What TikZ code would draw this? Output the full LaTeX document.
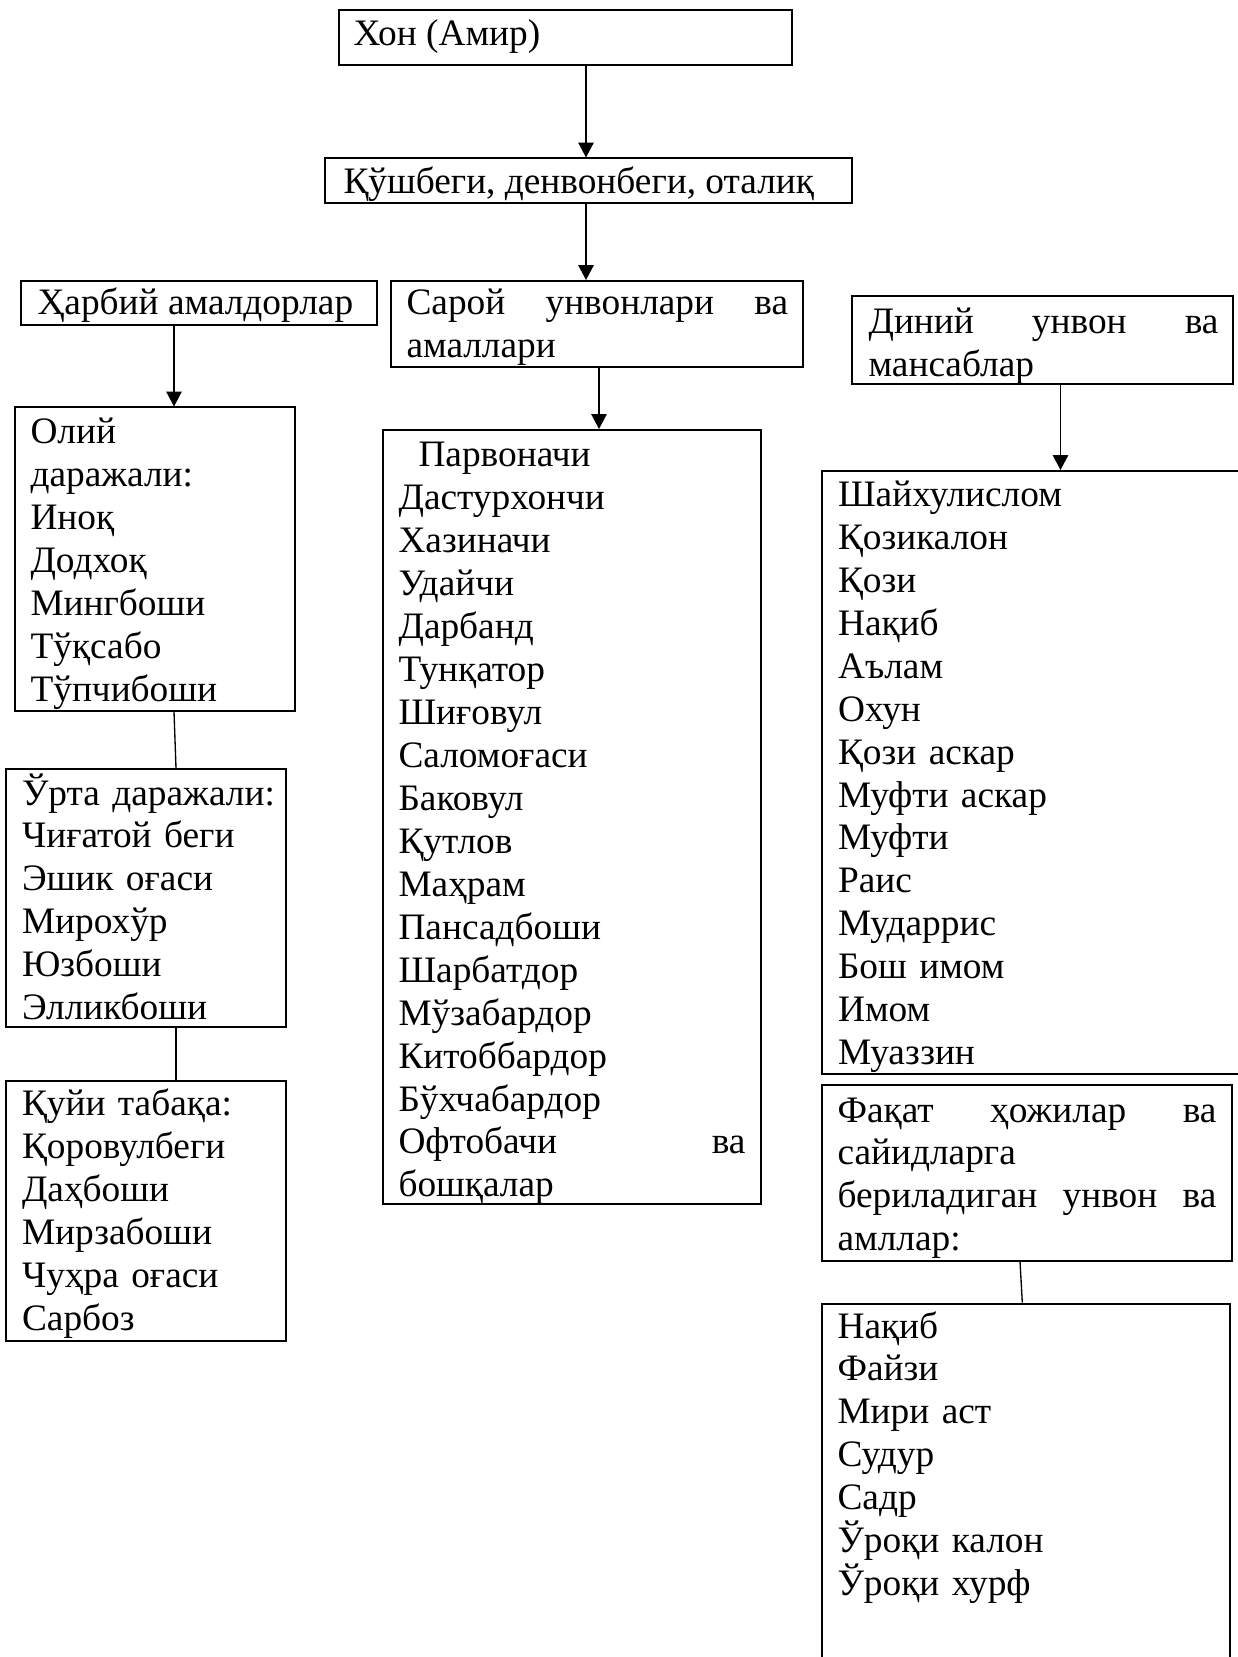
\documentclass[tikz,border=0pt]{standalone}
\usepackage{fontspec}
\setmainfont{Liberation Serif}
\usetikzlibrary{arrows.meta,fit}
\newcommand\jline[1]{\leavevmode\hbox to\linewidth{#1}}
\begin{document}
\begin{tikzpicture}[x=0.375pt,y=-0.375pt,
  box/.style={draw, line width=0.75pt, inner sep=0pt},
  txt/.style={inner sep=0pt, anchor=base west, align=left, font=\fontsize{14pt}{16.1pt}\selectfont},
  arr/.style={line width=0.5pt, -{Triangle[length=5.6pt,width=5.8pt]}},
  ln/.style={line width=0.5pt}]
\useasboundingbox (0,0) rectangle (1237,1657);
% boxes
\node[box, fit={(339,10) (792,65.5)}] (hon) {};
\node[box, fit={(325,158.5) (852,203.5)}] (kush) {};
\node[box, fit={(21,281) (377,325)}] (harb) {};
\node[box, fit={(391,281) (802.5,367.5)}] (saroy) {};
\node[box, fit={(852,296.5) (1232.5,384)}] (diniy) {};
\node[box, fit={(14.5,407.5) (295,710.5)}] (oliy) {};
\node[box, fit={(6,769) (286,1027)}] (urta) {};
\node[box, fit={(6,1081) (286,1340.5)}] (quyi) {};
\node[box, fit={(383,430) (761,1203.5)}] (parv) {};
\node[box, fit={(822,471) (1242,1073.5)}] (shayx) {};
\node[box, fit={(822,1084.5) (1231.5,1260.5)}] (faqat) {};
\node[box, fit={(822,1303.5) (1229.5,1700)}] (naqib) {};
% texts
\node[txt] (honT) at (353,45.5) {Хон (Амир)};
\node[txt] (kushT) at (343,194) {Қўшбеги, денвонбеги, оталиқ};
\node[txt] (harbT) at (37,315) {Ҳарбий амалдорлар};
\node[txt, text width=143.1pt] (saroyT) at (406,315) {\jline{Сарой\hfill унвонлари\hfill ва}\\амаллари};
\node[txt, text width=131.25pt] (diniyT) at (868,333.5) {\jline{Диний\hfill унвон\hfill ва}\\мансаблар};
\node[txt, text width=100pt] (oliyT) at (30,444) {Олий\\даражали:\\Иноқ\\Додхоқ\\Мингбоши\\Тўқсабо\\Тўпчибоши};
\node[txt, text width=100pt] (urtaT) at (21.5,805) {Ўрта даражали:\\Чиғатой беги\\Эшик оғаси\\Мирохўр\\Юзбоши\\Элликбоши};
\node[txt, text width=100pt] (quyiT) at (21.5,1115.5) {Қуйи табақа:\\Қоровулбеги\\Даҳбоши\\Мирзабоши\\Чуҳра оғаси\\Сарбоз};
\node[txt, text width=130.1pt] (parvT) at (398,467) {\hspace*{7.5pt}Парвоначи\\Дастурхончи\\Хазиначи\\Удайчи\\Дарбанд\\Тунқатор\\Шиғовул\\Саломоғаси\\Баковул\\Қутлов\\Маҳрам\\Пансадбоши\\Шарбатдор\\Мўзабардор\\Китоббардор\\Бўхчабардор\\\jline{Офтобачи\hfill ва}\\бошқалар};
\node[txt, text width=140pt] (shayxT) at (837.5,506.5) {Шайхулислом\\Қозикалон\\Қози\\Нақиб\\Аълам\\Охун\\Қози аскар\\Муфти аскар\\Муфти\\Раис\\Мударрис\\Бош имом\\Имом\\Муаззин};
\node[txt, text width=142.1pt] (faqatT) at (837,1122) {\jline{Фақат\hfill ҳожилар\hfill ва}\\сайидларга\\\jline{бериладиган\hfill унвон\hfill ва}\\амллар:};
\node[txt, text width=140pt] (naqibT) at (837,1338) {Нақиб\\Файзи\\Мири аст\\Судур\\Садр\\Ўроқи калон\\Ўроқи хурф};
% connector columns
\coordinate (c1) at (586,0);
\coordinate (c2) at (174,0);
\coordinate (c3) at (599,0);
\coordinate (c4) at (1060.5,0);
\coordinate (c5) at (176,0);
\coordinate (c6) at (1020,0);
\coordinate (c7) at (1022.3,0);
% connectors
\draw[arr] (hon.south -| c1) -- (kush.north -| c1);
\draw[arr] (kush.south -| c1) -- (saroy.north -| c1);
\draw[arr] (harb.south -| c2) -- (oliy.north -| c2);
\draw[arr] (saroy.south -| c3) -- (parv.north -| c3);
\draw[arr] (diniy.south -| c4) -- (shayx.north -| c4);
\draw[ln] (oliy.south -| c2) -- (urta.north -| c5);
\draw[ln] (urta.south -| c5) -- (quyi.north -| c5);
\draw[ln] (faqat.south -| c6) -- (naqib.north -| c7);
\end{tikzpicture}
\end{document}
